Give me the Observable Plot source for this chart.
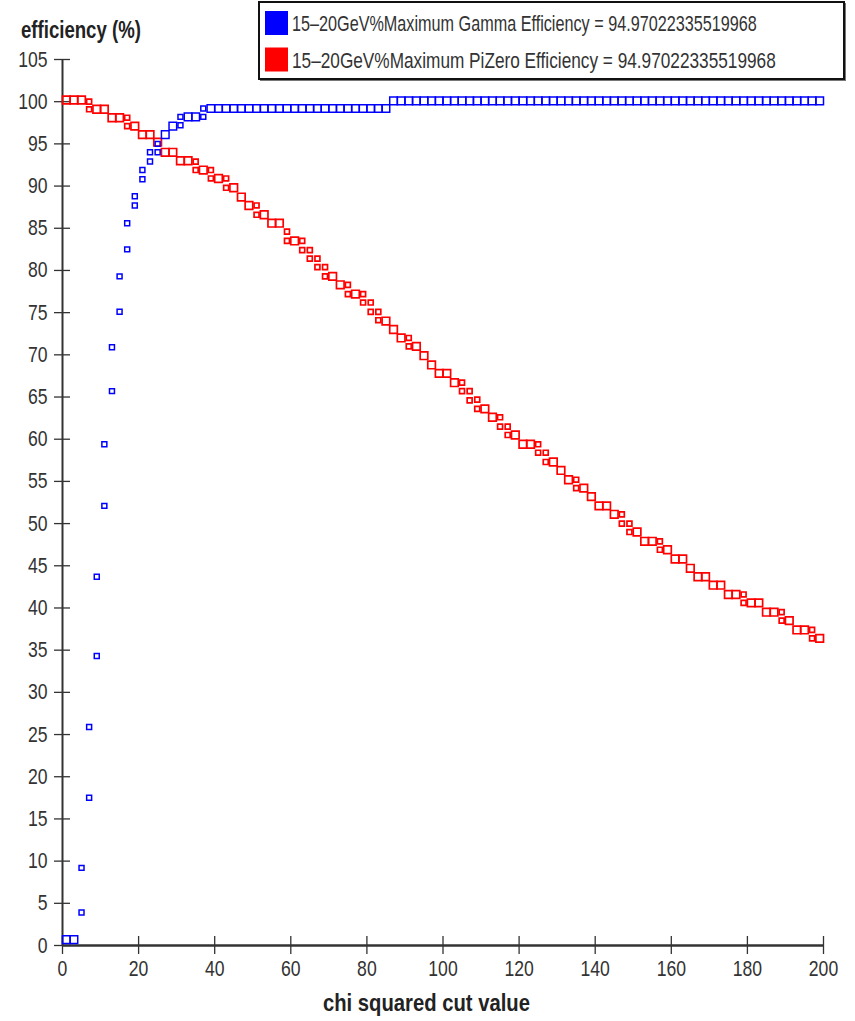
<!DOCTYPE html>
<html>
<head>
<meta charset="utf-8">
<script src="https://cdn.jsdelivr.net/npm/d3@7"></script>
<script src="https://cdn.jsdelivr.net/npm/@observablehq/plot@0.6"></script>
<style>
  html, body { margin: 0; padding: 0; background: #fff; }
  #chart { width: 855px; height: 1021px; }
</style>
</head>
<body>
<div id="chart"></div>
<script>
// Chi-squared cut scan, 15–20 GeV: gamma and pi-zero efficiency (%)
// Single markers (large squares) at each cut value
const gammaSingle = [
  [1, 0.7], [3, 0.7], [27, 96.1], [29, 97.1], [33, 98.2], [35, 98.2],
  [39, 99.2], [41, 99.2], [43, 99.2], [45, 99.2], [47, 99.2], [49, 99.2], [51, 99.2], [53, 99.2],
  [55, 99.2], [57, 99.2], [59, 99.2], [61, 99.2], [63, 99.2], [65, 99.2], [67, 99.2], [69, 99.2],
  [71, 99.2], [73, 99.2], [75, 99.2], [77, 99.2], [79, 99.2], [81, 99.2], [83, 99.2], [85, 99.2],
  [87, 100.1], [89, 100.1], [91, 100.1], [93, 100.1], [95, 100.1], [97, 100.1], [99, 100.1],
  [101, 100.1], [103, 100.1], [105, 100.1], [107, 100.1], [109, 100.1], [111, 100.1], [113, 100.1],
  [115, 100.1], [117, 100.1], [119, 100.1], [121, 100.1], [123, 100.1], [125, 100.1], [127, 100.1],
  [129, 100.1], [131, 100.1], [133, 100.1], [135, 100.1], [137, 100.1], [139, 100.1], [141, 100.1],
  [143, 100.1], [145, 100.1], [147, 100.1], [149, 100.1], [151, 100.1], [153, 100.1], [155, 100.1],
  [157, 100.1], [159, 100.1], [161, 100.1], [163, 100.1], [165, 100.1], [167, 100.1], [169, 100.1],
  [171, 100.1], [173, 100.1], [175, 100.1], [177, 100.1], [179, 100.1], [181, 100.1], [183, 100.1],
  [185, 100.1], [187, 100.1], [189, 100.1], [191, 100.1], [193, 100.1], [195, 100.1], [197, 100.1],
  [199, 100.1]
];
// Split markers (small squares) where the efficiency steps within a bin
const gammaSplit = [
  [5, 3.9], [5, 9.2], [7, 17.5], [7, 25.9], [9, 34.3], [9, 43.7], [11, 52.1], [11, 59.4],
  [13, 65.7], [13, 70.9], [15, 75.1], [15, 79.3], [17, 82.5], [17, 85.6], [19, 87.7], [19, 88.8],
  [21, 90.8], [21, 91.9], [23, 92.9], [23, 94.0], [25, 94.0], [25, 95.0], [31, 97.2], [31, 98.2],
  [37, 98.2], [37, 99.2]
];
const pizeroSingle = [
  [1, 100.2], [3, 100.2], [5, 100.2], [9, 99.1], [11, 99.1], [13, 98.1], [15, 98.1], [19, 97.1],
  [21, 96.1], [23, 96.1], [25, 95.2], [27, 94.0], [29, 94.0], [31, 93.0], [33, 93.0], [37, 91.9],
  [41, 90.9], [45, 89.8], [47, 88.7], [49, 87.7], [53, 86.6], [55, 85.6], [57, 85.6], [61, 83.5],
  [71, 79.3], [73, 78.3], [77, 77.2], [85, 74.0], [87, 73.0], [89, 72.0], [93, 71.0], [95, 69.9],
  [97, 68.8], [99, 67.8], [101, 67.8], [103, 66.7], [111, 63.6], [113, 62.6], [119, 60.5],
  [121, 59.4], [123, 59.4], [129, 57.3], [131, 56.3], [133, 55.2], [137, 54.2], [139, 53.2],
  [141, 52.1], [143, 52.1], [145, 51.1], [151, 49.0], [153, 47.9], [155, 47.9], [159, 46.9],
  [161, 45.8], [163, 45.8], [165, 44.7], [167, 43.7], [169, 43.7], [171, 42.7], [173, 42.7],
  [175, 41.6], [177, 41.6], [181, 40.6], [183, 40.6], [185, 39.5], [187, 39.5], [191, 38.5],
  [193, 37.4], [195, 37.4], [199, 36.4]
];
const pizeroSplit = [
  [7, 100.0], [7, 99.1], [17, 98.1], [17, 97.1], [35, 92.9], [35, 91.9], [39, 91.9], [39, 90.9],
  [43, 90.9], [43, 89.8], [51, 87.7], [51, 86.6], [59, 84.6], [59, 83.5], [63, 83.5], [63, 82.4],
  [65, 82.4], [65, 81.4], [67, 81.4], [67, 80.4], [69, 80.4], [69, 79.3], [75, 78.3], [75, 77.2],
  [79, 77.2], [79, 76.2], [81, 76.2], [81, 75.1], [83, 75.1], [83, 74.1], [91, 72.0], [91, 71.0],
  [105, 66.7], [105, 65.7], [107, 65.7], [107, 64.6], [109, 64.7], [109, 63.6], [115, 62.6],
  [115, 61.5], [117, 61.5], [117, 60.5], [125, 59.4], [125, 58.4], [127, 58.4], [127, 57.3],
  [135, 55.2], [135, 54.2], [147, 51.1], [147, 50.0], [149, 50.0], [149, 49.0], [157, 47.9],
  [157, 46.9], [179, 41.6], [179, 40.6], [189, 39.5], [189, 38.5], [197, 37.4], [197, 36.4]
];
const xTicks = [0, 20, 40, 60, 80, 100, 120, 140, 160, 180, 200];
const yTicks = [0, 5, 10, 15, 20, 25, 30, 35, 40, 45, 50, 55, 60, 65, 70, 75, 80, 85, 90, 95, 100, 105];
const legendItems = [
  {label: "15–20GeV%Maximum Gamma Efficiency = 94.97022335519968", color: "#0000ff"},
  {label: "15–20GeV%Maximum PiZero Efficiency = 94.97022335519968", color: "#ff0000"}
];
const yTitle = "efficiency (%)";
const xTitle = "chi squared cut value";

const BIG = 4.3, SMALL = 2.8;
const axisColor = "#333";
const FONT = "'Liberation Sans', Arial, sans-serif";
const NARROW = 0.8; // horizontal squeeze for a narrow sans look
const tickFont = {fontSize: 22, fill: "#333"};

const svg = Plot.plot({
  width: 855,
  height: 1021,
  marginLeft: 62,
  marginRight: 32,
  marginTop: 59,
  marginBottom: 76,
  style: {fontFamily: FONT, background: "white"},
  x: {domain: [0, 200]},
  y: {domain: [0, 105]},
  marks: [
    // outward ticks with labels
    Plot.axisX({ticks: xTicks, tickSize: 9, tickPadding: 6, stroke: axisColor, strokeWidth: 1.3, label: null, ...tickFont}),
    Plot.axisY({ticks: yTicks, tickSize: 8, tickPadding: 7, stroke: axisColor, strokeWidth: 1.3, label: null, ...tickFont}),
    // inward half of the crossing ticks
    Plot.axisX({ticks: xTicks, tickSize: -9, text: null, stroke: axisColor, strokeWidth: 1.3, label: null}),
    Plot.axisY({ticks: yTicks, tickSize: -8, text: null, stroke: axisColor, strokeWidth: 1.3, label: null}),
    Plot.ruleX([0], {stroke: axisColor, strokeWidth: 2}),
    Plot.ruleY([0], {stroke: axisColor, strokeWidth: 2.5}),
    Plot.dot(pizeroSingle, {x: d => d[0], y: d => d[1], symbol: "square", r: BIG, stroke: "#ff0000", strokeWidth: 1.7, fill: "none"}),
    Plot.dot(pizeroSplit, {x: d => d[0], y: d => d[1], symbol: "square", r: SMALL, stroke: "#ff0000", strokeWidth: 1.7, fill: "none"}),
    Plot.dot(gammaSingle, {x: d => d[0], y: d => d[1], symbol: "square", r: BIG, stroke: "#0000ff", strokeWidth: 1.5, fill: "none"}),
    Plot.dot(gammaSplit, {x: d => d[0], y: d => d[1], symbol: "square", r: SMALL, stroke: "#0000ff", strokeWidth: 1.5, fill: "none"})
  ]
});

document.getElementById("chart").appendChild(svg);

// Squeeze tick labels horizontally around their own anchor points
d3.select(svg).selectAll("g[aria-label$='tick label'] text").each(function () {
  const t = this.getAttribute("transform") || "";
  this.setAttribute("transform", `${t} scale(${NARROW},1)`);
});

const root = d3.select(svg);

// Left-anchored text squeezed horizontally to a given width
function fittedText(parent, str, x, y, width, size, weight, fill) {
  const t = parent.append("text")
    .attr("text-anchor", "start")
    .attr("font-family", FONT).attr("font-weight", weight).attr("font-size", size)
    .attr("fill", fill)
    .text(str);
  const natural = t.node().getComputedTextLength();
  t.attr("transform", `translate(${x},${y}) scale(${width / natural},1)`);
  return t;
}

// Axis titles
fittedText(root, yTitle, 21, 38, 120, 23, "bold", "#222");
fittedText(root, xTitle, 323, 1011, 207, 23, "bold", "#222");

// Legend box
const lg = root.append("g");
lg.append("rect")
  .attr("x", 260).attr("y", 3).attr("width", 586).attr("height", 78)
  .attr("fill", "#777");
lg.append("rect")
  .attr("x", 259).attr("y", 2).attr("width", 585).attr("height", 77)
  .attr("fill", "white").attr("stroke", "#111").attr("stroke-width", 2);
const legendWidths = [465, 484];
legendItems.forEach((item, i) => {
  const top = 11 + i * 36.5;
  lg.append("rect")
    .attr("x", 265).attr("y", top).attr("width", 23).attr("height", 24)
    .attr("fill", item.color);
  fittedText(lg, item.label, 292, top + 20, legendWidths[i], 22, "normal", "#333");
});
</script>
</body>
</html>
